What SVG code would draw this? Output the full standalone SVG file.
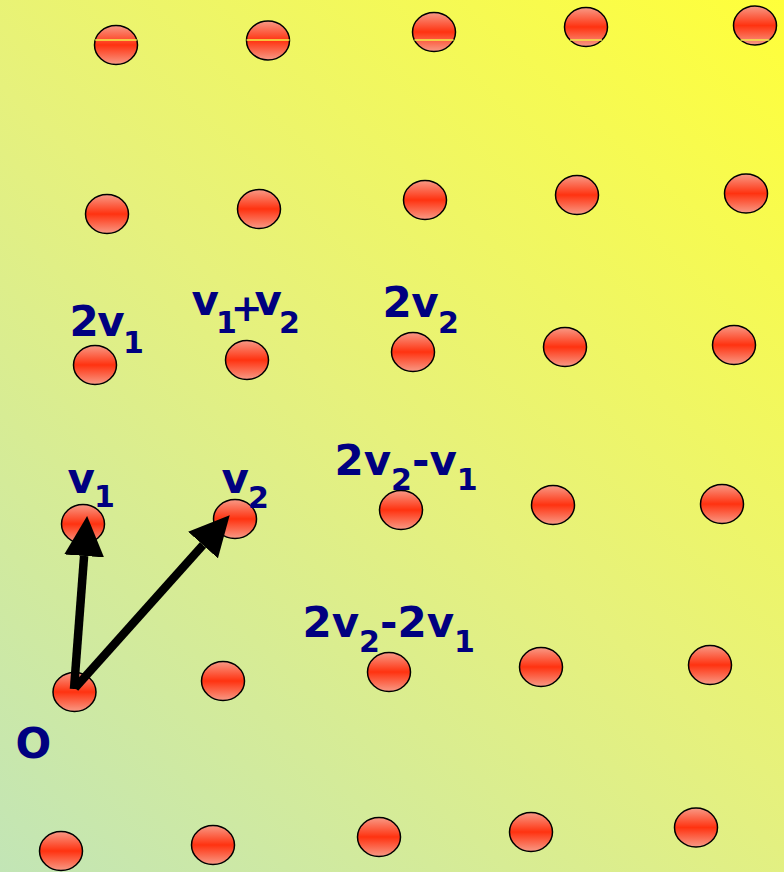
<svg xmlns="http://www.w3.org/2000/svg" width="784" height="872" viewBox="0 0 784 872">
<defs>
<linearGradient id="bg" gradientUnits="userSpaceOnUse" x1="0" y1="872" x2="784" y2="0">
<stop offset="0" stop-color="#c2e5b6"/>
<stop offset="0.5" stop-color="#e6f17c"/>
<stop offset="1" stop-color="#ffff3a"/>
</linearGradient>
<linearGradient id="ball" x1="0" y1="0" x2="0" y2="1">
<stop offset="0" stop-color="#f89a86"/>
<stop offset="0.5" stop-color="#ff3210"/>
<stop offset="1" stop-color="#f89a86"/>
</linearGradient>
<marker id="head" markerUnits="userSpaceOnUse" markerWidth="40" markerHeight="40" refX="0" refY="20" orient="auto" viewBox="0 0 40 40">
<path d="M0,0 L40,20 L0,40 z" fill="#000"/>
</marker>
</defs>
<style>
.dot{fill:url(#ball);stroke:#000;stroke-width:1.5}
.seam{stroke:#f2f048;stroke-width:1.4}
.lbl{font-family:"DejaVu Sans","Liberation Sans",sans-serif;font-weight:bold;fill:#000080;font-size:42px}
.sub{font-size:30px}
.tight{letter-spacing:-6px}
.plus{font-size:38px;letter-spacing:-8px}
.arrow{stroke:#000;stroke-width:8.5;fill:none;marker-end:url(#head)}
</style>
<rect x="0" y="0" width="784" height="872" fill="url(#bg)"/>

<g id="dot-r1c1"><ellipse class="dot" cx="116" cy="45" rx="21.5" ry="19.5"/><line class="seam" x1="95.2" y1="40" x2="136.8" y2="40"/></g>
<g id="dot-r1c2"><ellipse class="dot" cx="268" cy="40.5" rx="21.5" ry="19.5"/><line class="seam" x1="246.6" y1="40" x2="289.4" y2="40"/></g>
<g id="dot-r1c3"><ellipse class="dot" cx="434" cy="32" rx="21.5" ry="19.5"/><line class="seam" x1="414.4" y1="40" x2="453.6" y2="40"/></g>
<g id="dot-r1c4"><ellipse class="dot" cx="586" cy="27" rx="21.5" ry="19.5"/><line class="seam" x1="570" y1="40" x2="602" y2="40"/></g>
<g id="dot-r1c5"><ellipse class="dot" cx="755" cy="25.5" rx="21.5" ry="19.5"/><line class="seam" x1="740.5" y1="40" x2="769.5" y2="40"/></g>

<g id="dot-r2c1"><ellipse class="dot" cx="107" cy="214" rx="21.5" ry="19.5"/></g>
<g id="dot-r2c2"><ellipse class="dot" cx="259" cy="209" rx="21.5" ry="19.5"/></g>
<g id="dot-r2c3"><ellipse class="dot" cx="425" cy="200" rx="21.5" ry="19.5"/></g>
<g id="dot-r2c4"><ellipse class="dot" cx="577" cy="195" rx="21.5" ry="19.5"/></g>
<g id="dot-r2c5"><ellipse class="dot" cx="746" cy="193.5" rx="21.5" ry="19.5"/></g>

<g id="dot-2v1"><ellipse class="dot" cx="95" cy="365" rx="21.5" ry="19.5"/></g>
<g id="dot-v1v2"><ellipse class="dot" cx="247" cy="360" rx="21.5" ry="19.5"/></g>
<g id="dot-2v2"><ellipse class="dot" cx="413" cy="352" rx="21.5" ry="19.5"/></g>
<g id="dot-r3c4"><ellipse class="dot" cx="565" cy="347" rx="21.5" ry="19.5"/></g>
<g id="dot-r3c5"><ellipse class="dot" cx="734" cy="345" rx="21.5" ry="19.5"/></g>

<g id="dot-v1"><ellipse class="dot" cx="83" cy="524" rx="21.5" ry="19.5"/></g>
<g id="dot-v2"><ellipse class="dot" cx="235" cy="519" rx="21.5" ry="19.5"/></g>
<g id="dot-2v2-v1"><ellipse class="dot" cx="401" cy="510" rx="21.5" ry="19.5"/></g>
<g id="dot-r4c4"><ellipse class="dot" cx="553" cy="505" rx="21.5" ry="19.5"/></g>
<g id="dot-r4c5"><ellipse class="dot" cx="722" cy="504" rx="21.5" ry="19.5"/></g>

<g id="dot-origin"><ellipse class="dot" cx="74.5" cy="692" rx="21.5" ry="19.5"/></g>
<g id="dot-r5c2"><ellipse class="dot" cx="223" cy="681" rx="21.5" ry="19.5"/></g>
<g id="dot-2v2-2v1"><ellipse class="dot" cx="389" cy="672" rx="21.5" ry="19.5"/></g>
<g id="dot-r5c4"><ellipse class="dot" cx="541" cy="667" rx="21.5" ry="19.5"/></g>
<g id="dot-r5c5"><ellipse class="dot" cx="710" cy="665" rx="21.5" ry="19.5"/></g>

<g id="dot-r6c1"><ellipse class="dot" cx="61" cy="851" rx="21.5" ry="19.5"/></g>
<g id="dot-r6c2"><ellipse class="dot" cx="213" cy="845" rx="21.5" ry="19.5"/></g>
<g id="dot-r6c3"><ellipse class="dot" cx="379" cy="837" rx="21.5" ry="19.5"/></g>
<g id="dot-r6c4"><ellipse class="dot" cx="531" cy="832" rx="21.5" ry="19.5"/></g>
<g id="dot-r6c5"><ellipse class="dot" cx="696" cy="827.5" rx="21.5" ry="19.5"/></g>

<g id="connectors">
<line class="arrow" x1="74" y1="689" x2="84.1" y2="555.9"/>
<line class="arrow" x1="75" y1="688" x2="203" y2="545"/>
</g>

<g id="labels">
<text id="lbl-2v1" class="lbl" x="69.5" y="336" letter-spacing="-1.5">2v<tspan class="sub" dy="17">1</tspan></text>
<text id="lbl-v1v2" class="lbl" x="191.5" y="315" letter-spacing="-3">v<tspan class="sub tight" dy="18">1</tspan><tspan class="plus" dy="-12">+</tspan><tspan dy="-6">v</tspan><tspan class="sub" dy="18">2</tspan></text>
<text id="lbl-2v2" class="lbl" x="382.5" y="317" letter-spacing="-0.5">2v<tspan class="sub" dy="16">2</tspan></text>
<text id="lbl-v1" class="lbl" x="67.5" y="493" letter-spacing="-1">v<tspan class="sub" dy="14">1</tspan></text>
<text id="lbl-v2" class="lbl" x="221.5" y="493" letter-spacing="-1">v<tspan class="sub" dy="15">2</tspan></text>
<text id="lbl-2v2-v1" class="lbl" x="334.5" y="475">2v<tspan class="sub" dy="15">2</tspan><tspan dy="-15">-v</tspan><tspan class="sub" dy="15">1</tspan></text>
<text id="lbl-2v2-2v1" class="lbl" x="302.5" y="637">2v<tspan class="sub" dy="15">2</tspan><tspan dy="-15">-2v</tspan><tspan class="sub" dy="15">1</tspan></text>
<text id="lbl-O" class="lbl" x="15.5" y="758">O</text>
</g>
</svg>
